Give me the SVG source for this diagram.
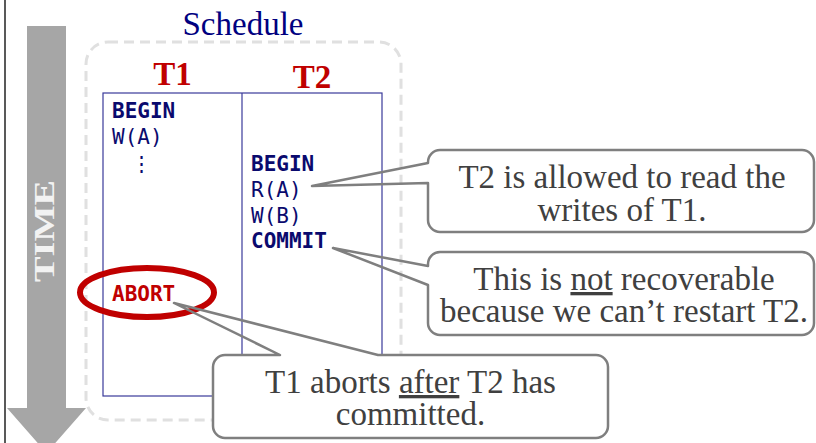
<svg xmlns="http://www.w3.org/2000/svg" width="816" height="443" viewBox="0 0 816 443">
<style>
.serif{font-family:"Liberation Serif","Times New Roman",serif}
.mono{font-family:"DejaVu Sans Mono",monospace;font-size:21px;fill:#0a0a6e}
.b{font-weight:bold}
.call{fill:#fff;stroke:none}
.callout{fill:none;stroke:#7f7f7f;stroke-width:2.5;stroke-linejoin:round}
.ctext{font-size:33px;fill:#404040;text-anchor:middle}
</style>
<rect x="0" y="0" width="816" height="443" fill="#fff"/>
<line x1="5" y1="0" x2="5" y2="443" stroke="#222" stroke-width="1.5"/>
<g id="time-arrow">
<polygon points="27,26 66,26 66,408 86,408 46.5,453 7,408 27,408" fill="#a6a6a6"/>
<text font-family="Liberation Serif, Times New Roman, serif" font-weight="bold" transform="translate(54,231) rotate(-90)" font-size="29" fill="#f2f2f2" text-anchor="middle" textLength="102" lengthAdjust="spacingAndGlyphs">TIME</text>
</g>
<g id="schedule">
<rect x="86" y="42" width="315" height="378" rx="22" ry="22" fill="none" stroke="#e0e0e0" stroke-width="3" stroke-dasharray="10 6"/>
<text class="serif" x="243" y="35" font-size="33" fill="#000080" text-anchor="middle">Schedule</text>
<text class="serif b" x="172.5" y="85" font-size="33" fill="#c00000" text-anchor="middle">T1</text>
<text class="serif b" x="312" y="88" font-size="33" fill="#c00000" text-anchor="middle">T2</text>
<rect x="103" y="93" width="279" height="303" fill="none" stroke="#3a3a9a" stroke-width="1.2"/>
<line x1="242" y1="93" x2="242" y2="396" stroke="#3a3a9a" stroke-width="1.2"/>
</g>
<g id="t1-ops">
<text class="mono b" x="112" y="118">BEGIN</text>
<text class="mono" x="112" y="144">W(A)</text>
<text class="mono" x="141" y="171" text-anchor="middle">⋮</text>
<text class="mono b" x="112" y="301" style="fill:#c00000">ABORT</text>
<ellipse cx="147" cy="292.5" rx="67" ry="24.5" fill="none" stroke="#c00000" stroke-width="6"/>
</g>
<g id="t2-ops">
<text class="mono b" x="251" y="171">BEGIN</text>
<text class="mono" x="251" y="197">R(A)</text>
<text class="mono" x="251" y="223">W(B)</text>
<text class="mono b" x="251" y="248">COMMIT</text>
</g>
<g id="connectors"></g>
<g id="callout-read">
<rect class="call" x="428" y="150" width="386" height="82" rx="12"/>
<path class="callout" d="M440,150 H802 A12,12 0 0 1 814,162 V220 A12,12 0 0 1 802,232 H440 A12,12 0 0 1 428,220 V183 L312,186 L428,163 V162 A12,12 0 0 1 440,150 Z"/>
<text class="ctext" font-family="Liberation Serif, Times New Roman, serif" x="622" y="188">T2 is allowed to read the</text>
<text class="ctext" font-family="Liberation Serif, Times New Roman, serif" x="622" y="221">writes of T1.</text>
</g>
<g id="callout-recoverable">
<rect class="call" x="428" y="252" width="386" height="83" rx="12"/>
<path class="callout" d="M440,252 H802 A12,12 0 0 1 814,264 V323 A12,12 0 0 1 802,335 H440 A12,12 0 0 1 428,323 V285 L333,248 L428,266 V264 A12,12 0 0 1 440,252 Z"/>
<text class="ctext" font-family="Liberation Serif, Times New Roman, serif" x="624" y="290">This is <tspan text-decoration="underline">not</tspan> recoverable</text>
<text class="ctext" font-family="Liberation Serif, Times New Roman, serif" x="624" y="322">because we can’t restart T2.</text>
</g>
<g id="callout-abort">
<rect class="call" x="213" y="355" width="395" height="83" rx="12"/>
<path class="callout" d="M225,355 H280 L174,303 L378,355 H596 A12,12 0 0 1 608,367 V426 A12,12 0 0 1 596,438 H225 A12,12 0 0 1 213,426 V367 A12,12 0 0 1 225,355 Z"/>
<text class="ctext" font-family="Liberation Serif, Times New Roman, serif" x="410.5" y="393">T1 aborts <tspan text-decoration="underline">after</tspan> T2 has</text>
<text class="ctext" font-family="Liberation Serif, Times New Roman, serif" x="410.5" y="425">committed.</text>
</g>
</svg>
